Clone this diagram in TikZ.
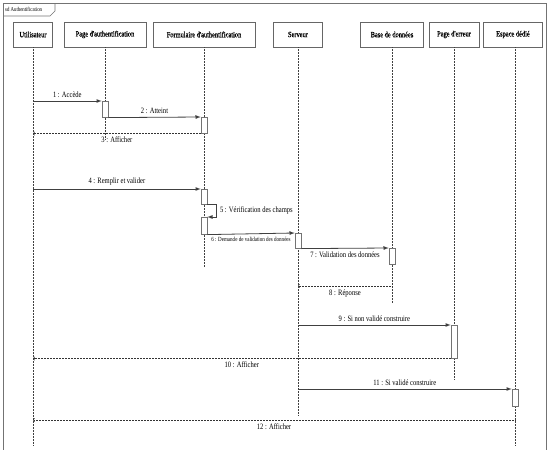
\documentclass[tikz,border=0pt]{standalone}
\usepackage{fontspec}
\setmainfont[FakeStretch=0.8]{Liberation Serif}
\newfontfamily\headfont[FakeStretch=0.8,FakeBold=1]{Liberation Serif}
\usepackage{xcolor}
\usepackage{tikz}

\begin{document}
\begin{tikzpicture}[x=1pt,y=-1pt,font=\fontsize{8.2}{9}\selectfont]
    \tikzstyle{head} = [rectangle, draw=black!60, line width=0.8pt, fill=white, minimum height=25, inner sep=1pt, font=\headfont\fontsize{8}{9}\selectfont]
    \tikzstyle{lifeline} = [densely dotted, draw=black!75, line width=0.5pt]
    \tikzstyle{act} = [rectangle, draw=black!55, line width=0.6pt, fill=white, minimum width=6, inner sep=0pt, anchor=north]
    \tikzstyle{msg} = [-latex, draw=black!75, line width=0.8pt]
    \tikzstyle{ret} = [->, densely dotted, draw=black!80, line width=0.5pt]
    \useasboundingbox (0,0) rectangle (550,450);
    % cadre sd
    \draw [black!55, line width=1pt] (3,452) -- (3,3) -- (546,3) -- (546,452);
    \draw [black!55, line width=0.6pt] (3,16) -- (50,16) -- (55,11) -- (55,3);
    \node [anchor=west, inner sep=0pt, font=\fontsize{6}{7}\selectfont] (sd) at (5,9.5) {sd Authentification};
    % objets
    \node [head, minimum width=39] (U) at (33,34.5) {Utilisateur};
    \node [head, minimum width=82] (PA) at (105,34.5) {Page d'authentification};
    \node [head, minimum width=102] (FA) at (204,34.5) {Formulaire d'authentification};
    \node [head, minimum width=49] (S) at (298,34.5) {Serveur};
    \node [head, minimum width=63] (BD) at (392,34.5) {Base de données};
    \node [head, minimum width=50] (PE) at (454,34.5) {Page d'erreur};
    \node [head, minimum width=59] (ED) at (513,34.5) {Espace dédié};
    % lignes de vie
    \coordinate (Uend) at (33,445);
    \coordinate (PAend) at (105,140);
    \coordinate (FAend) at (204,267);
    \coordinate (Send) at (298,415);
    \coordinate (BDend) at (392,303);
    \coordinate (PEend) at (454,380);
    \coordinate (EDend) at (515,445);
    \draw [lifeline] (U.south) -- (Uend);
    \draw [lifeline] (PA.south) -- (PAend);
    \draw [lifeline] (FA.south) -- (FAend);
    \draw [lifeline] (S.south) -- (Send);
    \draw [lifeline] (BD.south) -- (BDend);
    \draw [lifeline] (PE.south) -- (PEend);
    \draw [lifeline] (ED.south -| EDend) -- (EDend);
    % activations
    \node [act, minimum height=16] (a1) at (105,101) {};
    \node [act, minimum height=16] (a2) at (204,117) {};
    \node [act, minimum height=15] (a3) at (204,189) {};
    \node [act, minimum height=17] (a4) at (204,217) {};
    \node [act, minimum height=15] (a5) at (298,233) {};
    \node [act, minimum height=16] (a6) at (392,248) {};
    \node [act, minimum height=33] (a7) at (454,325) {};
    \node [act, minimum height=17] (a8) at (515,389) {};
    \coordinate (m8) at (392,286);
    \coordinate (m12) at (515,420);
    % messages
    \draw [msg] (U |- a1.north) -- node [above] {1 : Accède} (a1.north west);
    \draw [msg] (a1.south east) -- node [above] {2 : Atteint} (a2.north west);
    \draw [ret] (a2.south west) -- node [below] {3 : Afficher} (U |- a2.south);
    \draw [msg] (U |- a3.north) -- node [above] {4 : Remplir et valider} (a3.north west);
    \draw [msg] (a3.south east) -- ++(9,0) |- node [pos=0.25, right] {5 : Vérification des champs} (a4.north east);
    \draw [msg] (a4.south east) -- node [below, font=\fontsize{6.3}{7}\selectfont] {6 : Demande de validation des données} (a5.north west);
    \draw [msg] (a5.south east) -- node [below] {7 : Validation des données} (a6.north west);
    \draw [ret] (m8) -- node [below] {8 : Réponse} (S |- m8);
    \draw [msg] (S |- a7.north) -- node [above] {9 : Si non validé construire} (a7.north west);
    \draw [ret] (a7.south west) -- node [below] {10 : Afficher} (U |- a7.south);
    \draw [msg] (S |- a8.north) -- node [above] {11 : Si validé construire} (a8.north west);
    \draw [ret] (m12) -- node [below] {12 : Afficher} (U |- m12);
\end{tikzpicture}
\end{document}
